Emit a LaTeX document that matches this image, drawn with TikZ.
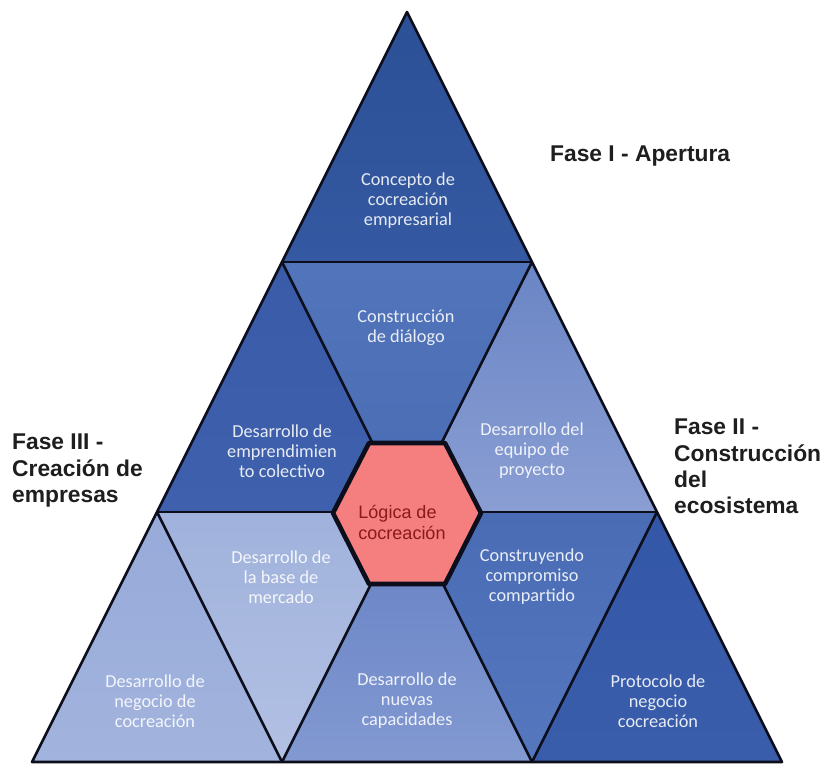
\documentclass[tikz,border=0pt]{standalone}
\usepackage{fontspec}
\setmainfont{Carlito}
\newfontfamily\arialfont{Liberation Sans}
\definecolor{edge}{HTML}{0D0E1C}
\definecolor{fasegray}{HTML}{1E1E1E}
\definecolor{hexfill}{HTML}{F57E7E}
\definecolor{hextxt}{HTML}{8A1B1B}

\begin{document}
\begin{tikzpicture}[x=1pt,y=-1pt,
  tri/.style={draw=edge,line width=2.6pt,line join=round},
  hexa/.style={fill=hexfill,draw=edge,line width=4.6pt,line join=round},
  txt/.style={text=white,text opacity=0.88,align=center,inner sep=0pt,font=\fontsize{18.3}{20}\selectfont},
  hextext/.style={text=hextxt,align=left,inner sep=0pt,font=\arialfont\fontsize{18}{21}\selectfont},
  fase/.style={text=fasegray,align=left,anchor=north west,inner sep=0pt,font=\arialfont\bfseries\fontsize{22.8}{26.2}\selectfont}]
        \useasboundingbox[fill=white] (0,0) rectangle (824,763);
        \coordinate (t) at (407,12);
        \coordinate (a1) at (282,262);
        \coordinate (a2) at (532,262);
        \coordinate (b1) at (157,512);
        \coordinate (b2) at (407,512);
        \coordinate (b3) at (657,512);
        \coordinate (c1) at (32,762);
        \coordinate (c2) at (282,762);
        \coordinate (c3) at (532,762);
        \coordinate (c4) at (782,762);
        \fill[top color={rgb,255:red,44;green,80;blue,150},bottom color={rgb,255:red,52;green,89;blue,162}] (t) -- (a1) -- (a2) -- cycle;
        \fill[top color={rgb,255:red,82;green,116;blue,186},bottom color={rgb,255:red,74;green,108;blue,180}] (a1) -- (a2) -- (b2) -- cycle;
        \fill[top color={rgb,255:red,58;green,92;blue,168},bottom color={rgb,255:red,63;green,97;blue,173}] (a1) -- (b1) -- (b2) -- cycle;
        \fill[top color={rgb,255:red,106;green,133;blue,197},bottom color={rgb,255:red,138;green,158;blue,211}] (a2) -- (b2) -- (b3) -- cycle;
        \fill[top color={rgb,255:red,151;green,170;blue,217},bottom color={rgb,255:red,162;green,179;blue,221}] (b1) -- (c1) -- (c2) -- cycle;
        \fill[top color={rgb,255:red,160;green,178;blue,220},bottom color={rgb,255:red,178;green,192;blue,227}] (b1) -- (b2) -- (c2) -- cycle;
        \fill[top color={rgb,255:red,101;green,128;blue,196},bottom color={rgb,255:red,130;green,153;blue,209}] (b2) -- (c2) -- (c3) -- cycle;
        \fill[top color={rgb,255:red,74;green,108;blue,181},bottom color={rgb,255:red,85;green,119;blue,190}] (b2) -- (b3) -- (c3) -- cycle;
        \fill[top color={rgb,255:red,51;green,87;blue,167},bottom color={rgb,255:red,58;green,93;blue,171}] (b3) -- (c3) -- (c4) -- cycle;
        \draw[tri] (t) -- (c1) -- (c4) -- cycle;
        \draw[tri] (a1) -- (a2);
        \draw[tri] (b1) -- (b3);
        \draw[tri] (a1) -- (c3);
        \draw[tri] (a2) -- (c2);
        \draw[tri] (b1) -- (c2);
        \draw[tri] (b3) -- (c3);
        \draw[hexa] (369,443) -- (445,443) -- (481,513) -- (445,584) -- (369,584) -- (333,513) -- cycle;
        \node[txt] (concepto) at (408,201) {Concepto de\\cocreación\\empresarial};
        \node[txt] (dialogo) at (406,328) {Construcción\\de diálogo};
        \node[txt] (emprendimiento) at (282,451) {Desarrollo de\\emprendimien\\to colectivo};
        \node[txt] (equipo) at (532,451) {Desarrollo del\\equipo de\\proyecto};
        \node[txt] (mercado) at (281,577) {Desarrollo de\\la base de\\mercado};
        \node[txt] (compromiso) at (532,577) {Construyendo\\compromiso\\compartido};
        \node[txt] (negocio) at (155,701) {Desarrollo de\\negocio de\\cocreación};
        \node[txt] (capacidades) at (407,701) {Desarrollo de\\nuevas\\capacidades};
        \node[txt] (protocolo) at (658,701) {Protocolo de\\negocio\\cocreación};
        \node[hextext] (logica) at (402,522) {Lógica de\\cocreación};
        \node[fase] (faseI) at (550,146) {Fase I - Apertura};
        \node[fase] (faseII) at (674,419) {Fase II -\\Construcción\\del\\ecosistema};
        \node[fase] (faseIII) at (12,434) {Fase III -\\Creación de\\empresas};
\end{tikzpicture}
\end{document}
